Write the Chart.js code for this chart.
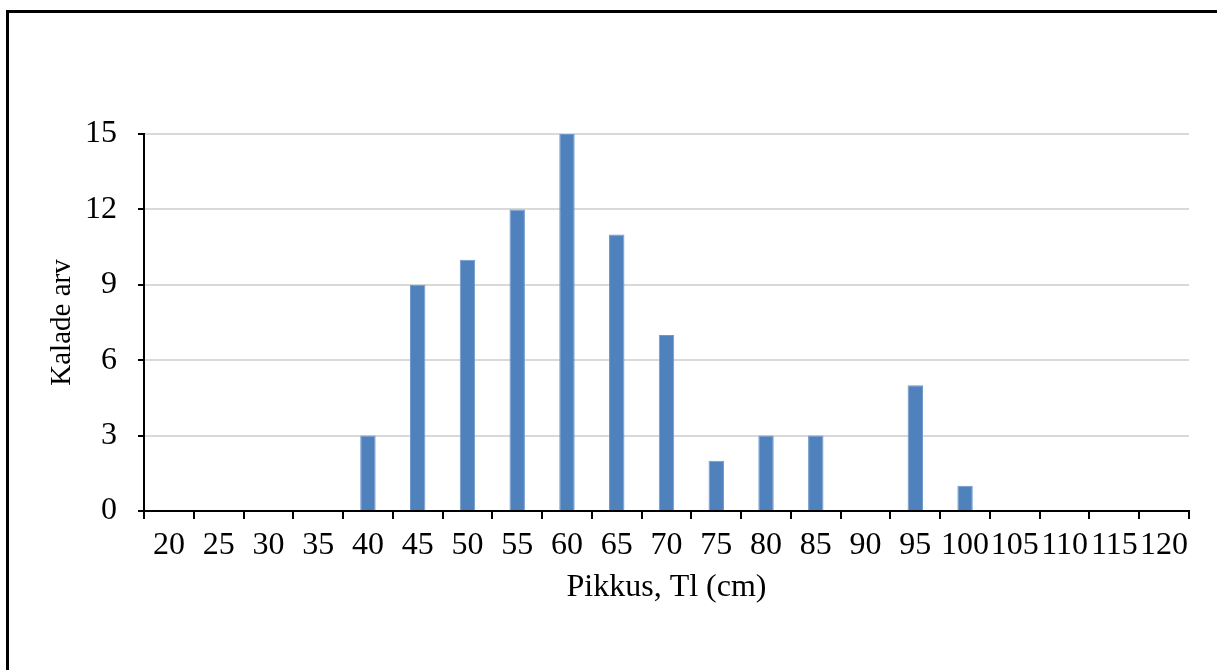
<!DOCTYPE html>
<html>
<head>
<meta charset="utf-8">
<script src="https://cdn.jsdelivr.net/npm/chart.js@4/dist/chart.umd.min.js"></script>
<style>
  html, body { margin: 0; padding: 0; background: #fff; overflow: hidden; }
  #frame {
    position: absolute; left: 6px; top: 10px; width: 1400px; height: 800px;
    border-left: 3px solid #000; border-top: 3px solid #000;
  }
  #wrap { position: absolute; left: 0; top: 0; width: 1217px; height: 670px; }
</style>
</head>
<body>
<div id="frame"></div>
<div id="wrap"><canvas id="chart" width="1217" height="670"></canvas></div>
<script>
// Length classes (cm) and number of fish in each class
const lengthClasses = ['20', '25', '30', '35', '40', '45', '50', '55', '60', '65', '70',
  '75', '80', '85', '90', '95', '100', '105', '110', '115', '120'];
const fishCounts = [0, 0, 0, 0, 3, 9, 10, 12, 15, 11, 7, 2, 3, 3, 0, 5, 1, 0, 0, 0, 0];
const countTicks = [0, 3, 6, 9, 12, 15];

const serif = 'Liberation Serif';
const fontSize = 32;

new Chart(document.getElementById('chart'), {
  type: 'bar',
  data: {
    labels: lengthClasses,
    datasets: [{
      data: fishCounts,
      backgroundColor: '#4f81bd',
      borderColor: '#6f99cc',
      borderWidth: 1,
      categoryPercentage: 1.0,
      barPercentage: 0.31
    }]
  },
  options: {
    responsive: false,
    animation: false,
    devicePixelRatio: 1,
    layout: { padding: { left: 0, right: 28, top: 134, bottom: 0 } },
    plugins: { legend: { display: false }, tooltip: { enabled: false } },
    scales: {
      x: {
        offset: true,
        afterFit: (s) => { s.height = 159; },
        grid: {
          offset: true, drawOnChartArea: false, tickLength: 8,
          tickColor: '#000', tickWidth: 2, lineWidth: 2
        },
        border: { display: true, color: '#000', width: 2 },
        ticks: {
          autoSkip: false, maxRotation: 0, minRotation: 0, padding: 7,
          color: '#000', font: { family: serif, size: fontSize }
        },
        title: {
          display: true, text: 'Pikkus, Tl (cm)', color: '#000',
          font: { family: serif, size: fontSize }, padding: { top: 0, bottom: 63 }
        }
      },
      y: {
        min: 0, max: 15,
        afterFit: (s) => { s.width = 144; },
        afterBuildTicks: (s) => { s.ticks = countTicks.map(v => ({ value: v })); },
        grid: {
          color: (ctx) => ctx.tick && ctx.tick.value === 0 ? 'rgba(0,0,0,0)' : '#d9d9d9',
          lineWidth: 2, tickLength: 6, tickColor: '#000', tickWidth: 2
        },
        border: { display: true, color: '#000', width: 2 },
        ticks: {
          padding: 21, color: '#000', font: { family: serif, size: fontSize }
        },
        title: {
          display: true, text: 'Kalade arv', color: '#000',
          font: { family: serif, size: 29 }, padding: { top: 45, bottom: 0 }
        }
      }
    }
  }
});
</script>
</body>
</html>
